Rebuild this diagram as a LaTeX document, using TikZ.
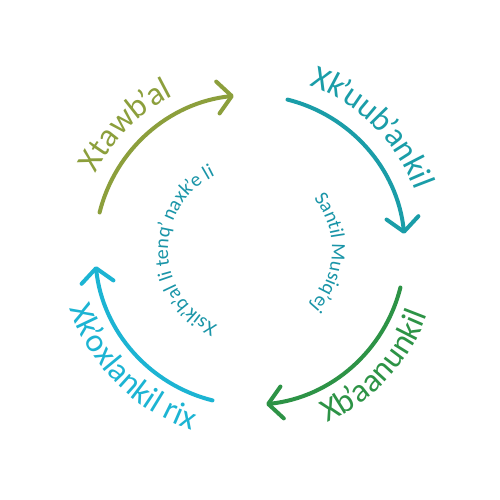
\documentclass[tikz,border=0pt]{standalone}
\usepackage{fontspec}
\setmainfont{Carlito}
\usetikzlibrary{arrows.meta,decorations.text}
\definecolor{colOlive}{HTML}{8C9F3C}
\definecolor{colTeal}{HTML}{1A9DA8}
\definecolor{colGreen}{HTML}{2D9346}
\definecolor{colCyan}{HTML}{1CB4D3}
\definecolor{colInner}{HTML}{1A95A8}
\newcommand{\apb}{{\kern-3pt’\kern-2pt}}
\newcommand{\aps}{{\kern-1.5pt’\kern-1pt}}
\begin{document}
\begin{tikzpicture}[x=1pt,y=1pt,
  cyclearrow/.style={line width=4pt, line cap=round, -{Straight Barb[length=14pt,width=32pt,line width=4pt,round]}},
  outerlabel/.style={decorate, decoration={text along path, text align=center, text color=#1}},
  innerlabel/.style={decorate, decoration={text along path, text align=center, text color=colInner}}]
\useasboundingbox[fill=white] (0,0) rectangle (500,500);
\coordinate (c) at (250,250);
% arcs
\draw[cyclearrow, colOlive] ([shift={(166:155)}]c) arc[start angle=166, end angle=96, radius=155];
\draw[cyclearrow, colTeal]  ([shift={(76:155)}]c) arc[start angle=76, end angle=6, radius=155];
\draw[cyclearrow, colGreen] ([shift={(-14:155)}]c) arc[start angle=-14, end angle=-84, radius=155];
\draw[cyclearrow, colCyan]  ([shift={(256:155)}]c) arc[start angle=256, end angle=186, radius=155];
% outer labels
\path[outerlabel=colOlive, decoration={text={|\fontsize{33}{33}\selectfont|Xtawb{\kern-3pt’\kern-2pt}al}}]
  ([shift={(175:172)}]c) arc[start angle=175, end angle=95, radius=172];
\path[outerlabel=colTeal, decoration={text={|\fontsize{33}{33}\selectfont|Xk{\kern-3pt’\kern-2pt}uub{\kern-3pt’\kern-2pt}ankil}}]
  ([shift={(85:175)}]c) arc[start angle=85, end angle=5, radius=175];
\path[outerlabel=colGreen, decoration={text={|\fontsize{33}{33}\selectfont|Xb{\kern-3pt’\kern-2pt}aanunkil}}]
  ([shift={(-85:189)}]c) arc[start angle=-85, end angle=-1, radius=189];
\path[outerlabel=colCyan, decoration={text={|\fontsize{33}{33}\selectfont|Xk{\kern-3pt’\kern-2pt}oxlankil rix}}]
  ([shift={(183:189)}]c) arc[start angle=183, end angle=267, radius=189];
% inner labels
\path[innerlabel, decoration={text={|\fontsize{20}{20}\selectfont|Xsik{\kern-1.5pt’\kern-1pt}b{\kern-1.5pt’\kern-1pt}al li tenq{\kern-1.5pt’\kern-1pt} naxk{\kern-1.5pt’\kern-1pt}e li}}]
  ([shift={(271:82)}]c) arc[start angle=271, end angle=91, radius=82];
\path[innerlabel, decoration={text={|\fontsize{20}{20}\selectfont|Santil Musiq{\kern-1.5pt’\kern-1pt}ej}}]
  ([shift={(88:82)}]c) arc[start angle=88, end angle=-92, radius=82];
\end{tikzpicture}
\end{document}
